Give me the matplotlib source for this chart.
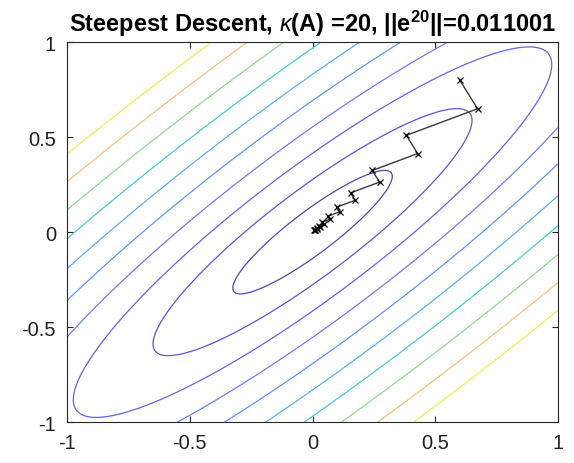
import numpy as np
import matplotlib
matplotlib.use("Agg")
import matplotlib.pyplot as plt

plt.rcParams['font.family'] = ['Liberation Sans', 'DejaVu Sans']
plt.rcParams['mathtext.fontset'] = 'custom'
plt.rcParams['mathtext.rm'] = 'Liberation Sans'
plt.rcParams['mathtext.it'] = 'Liberation Sans:italic'
plt.rcParams['mathtext.bf'] = 'Liberation Sans:bold'

# quadratic form, kappa(A) = 20
A = np.array([[10.5, -9.5],
              [-9.5, 10.5]])

# contour levels of the A-norm and their line colours
levels = [0.4485, 0.897, 1.3455, 1.794, 2.2425, 2.691, 3.1395, 3.588, 4.0365, 4.485]
level_colors = ['#5048b8', '#5a56d6', '#6464e6', '#6e7ef0', '#6494f8',
                '#5cb0f0', '#44ccd8', '#92d892', '#f6c278', '#f4ec4c']

# steepest descent iterates x0 .. x20
path_x = [0.6, 0.6725, 0.3822, 0.4284, 0.2435, 0.2729, 0.1551, 0.1738, 0.0988, 0.1107,
          0.0629, 0.0705, 0.0401, 0.0449, 0.0255, 0.0286, 0.0163, 0.0182, 0.0104, 0.0116, 0.0066]
path_y = [0.8, 0.6494, 0.5096, 0.4137, 0.3246, 0.2635, 0.2068, 0.1679, 0.1317, 0.1069,
          0.0839, 0.0681, 0.0534, 0.0434, 0.0340, 0.0276, 0.0217, 0.0176, 0.0138, 0.0112, 0.0088]

g = np.linspace(-1, 1, 401)
X, Y = np.meshgrid(g, g)
Z = np.sqrt(A[0, 0]*X**2 + (A[0, 1] + A[1, 0])*X*Y + A[1, 1]*Y**2)

fig = plt.figure(figsize=(5.74, 4.64), dpi=100)
ax = fig.add_axes([0.117, 0.088, 0.855, 0.819])

ax.contour(X, Y, Z, levels=levels, colors=level_colors, linewidths=0.9)
ax.plot(path_x, path_y, color='#3a3a3a', lw=1.0, marker='x', ms=5,
        mec='black', mew=0.9)

ax.set_xlim(-1, 1)
ax.set_ylim(-1, 1)
ax.set_xticks([-1, -0.5, 0, 0.5, 1])
ax.set_yticks([-1, -0.5, 0, 0.5, 1])
ax.set_xticklabels(['-1', '-0.5', '0', '0.5', '1'])
ax.set_yticklabels(['-1', '-0.5', '0', '0.5', '1'])
ax.tick_params(direction='in', top=True, right=True, length=4, width=0.8,
               labelsize=14.5, colors='#262626', labelcolor='#202020', pad=8)
for s in ax.spines.values():
    s.set_color('#262626')
    s.set_linewidth(0.8)

ax.set_title(r'Steepest Descent, $\mathit{\kappa}$(A) =20, ||e$^{\mathbf{20}}$||=0.011001',
             fontsize=17, fontweight='bold', pad=8)

fig.savefig('out.png', dpi=100)
